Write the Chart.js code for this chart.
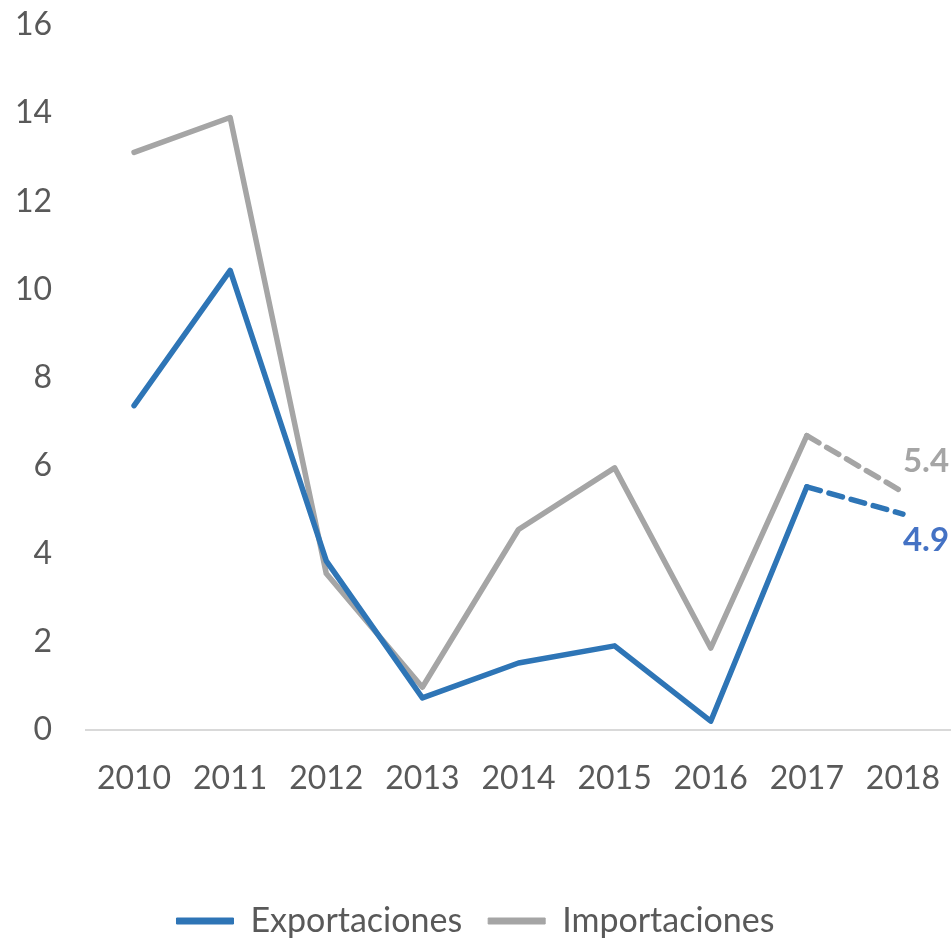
<!DOCTYPE html>
<html>
<head>
<meta charset="utf-8">
<script src="https://cdn.jsdelivr.net/npm/chart.js@4.4.1/dist/chart.umd.min.js"></script>
<style>
  html, body { margin: 0; padding: 0; background: #fff; }
  #wrap { width: 951px; height: 942px; position: relative; }
</style>
</head>
<body>
<div id="wrap"><canvas id="c"></canvas></div>
<script>
const categories = ['2010','2011','2012','2013','2014','2015','2016','2017','2018'];
const exportaciones = [7.36, 10.43, 3.84, 0.73, 1.52, 1.91, 0.2, 5.52, 4.9];
const importaciones = [13.11, 13.9, 3.55, 0.97, 4.55, 5.95, 1.86, 6.68, 5.4];
const yTicks = [0, 2, 4, 6, 8, 10, 12, 14, 16];
const seriesNames = ['Exportaciones', 'Importaciones'];

const BLUE = '#2E75B6';
const GRAY = '#A5A5A5';
const TEXT = '#595959';
const FONT = 'Lato, "Open Sans", sans-serif';

const dashLast = (ctx) => (ctx.p1DataIndex === categories.length - 1 ? [14, 9] : undefined);

const endLabels = {
  id: 'endLabels',
  afterDatasetsDraw(chart) {
    const { ctx, scales } = chart;
    const last = categories.length - 1;
    const specs = [
      { data: importaciones, color: GRAY, dy: -31 },
      { data: exportaciones, color: '#4472C4', dy: 26 }
    ];
    ctx.save();
    ctx.font = 'bold 33px ' + FONT;
    ctx.textAlign = 'left';
    ctx.textBaseline = 'middle';
    specs.forEach(s => {
      const x = scales.x.getPixelForValue(last);
      const y = scales.y.getPixelForValue(s.data[last]);
      ctx.fillStyle = s.color;
      ctx.fillText(s.data[last].toFixed(1), x, y + s.dy);
    });
    ctx.restore();
  }
};

new Chart(document.getElementById('c'), {
  type: 'line',
  data: {
    labels: categories,
    datasets: [
      {
        label: seriesNames[0],
        data: exportaciones,
        borderColor: BLUE,
        backgroundColor: BLUE,
        borderWidth: 5.5,
        pointRadius: 0,
        tension: 0,
        borderJoinStyle: 'round',
        borderCapStyle: 'round',
        segment: { borderDash: dashLast }
      },
      {
        label: seriesNames[1],
        data: importaciones,
        borderColor: GRAY,
        backgroundColor: GRAY,
        borderWidth: 5.5,
        pointRadius: 0,
        tension: 0,
        borderJoinStyle: 'round',
        borderCapStyle: 'round',
        segment: { borderDash: dashLast }
      }
    ]
  },
  options: {
    responsive: true,
    maintainAspectRatio: false,
    animation: false,
    layout: { padding: { top: 25, right: 0, left: 0, bottom: -6 } },
    plugins: {
      tooltip: { enabled: false },
      legend: {
        position: 'bottom',
        labels: {
          color: TEXT,
          font: { family: FONT, size: 34 },
          boxWidth: 57,
          boxHeight: 6,
          padding: 26,
          generateLabels(chart) {
            return chart.data.datasets.map((d, i) => ({
              text: d.label,
              fillStyle: d.borderColor,
              strokeStyle: d.borderColor,
              lineWidth: 1,
              fontColor: TEXT,
              hidden: false,
              datasetIndex: i
            }));
          }
        }
      }
    },
    scales: {
      x: {
        offset: true,
        grid: { display: false, drawTicks: true, tickLength: 29 },
        border: { display: true, color: '#D9D9D9', width: 2 },
        ticks: { color: TEXT, font: { family: FONT, size: 32 }, padding: 0, maxRotation: 0 },
        afterFit(scale) { scale.height = 148; }
      },
      y: {
        min: 0,
        max: 16,
        grid: { display: false, drawTicks: true, tickLength: 34 },
        border: { display: false },
        afterBuildTicks(scale) { scale.ticks = yTicks.map(v => ({ value: v })); },
        ticks: { color: TEXT, font: { family: FONT, size: 32 }, padding: 0 },
        afterFit(scale) { scale.width = 86; }
      }
    }
  },
  plugins: [endLabels]
});
</script>
</body>
</html>
